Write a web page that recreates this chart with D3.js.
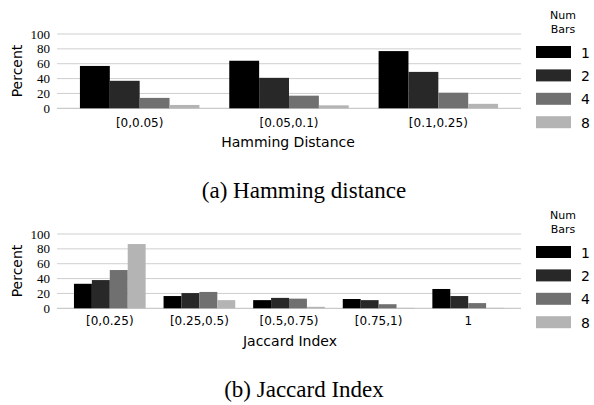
<!DOCTYPE html>
<html>
<head>
<meta charset="utf-8">
<script src="https://cdn.jsdelivr.net/npm/d3@7"></script>
<style>
  body { margin: 0; background: #fff; }
  svg { display: block; }
  .sans { font-family: "DejaVu Sans", sans-serif; }
  .serif { font-family: "Liberation Serif", serif; }
</style>
</head>
<body>
<svg id="chart" width="594" height="405"></svg>
<script>
// data
const series = ["1", "2", "4", "8"];
const seriesColors = ["#000000", "#282828", "#707070", "#b4b4b4"];
const yTicks = [0, 20, 40, 60, 80, 100];

const hammingCats = ["[0,0.05)", "[0.05,0.1)", "[0.1,0.25)"];
const hamming1 = [57, 64, 77];
const hamming2 = [37, 41, 49];
const hamming4 = [14, 17, 21];
const hamming8 = [4.5, 4, 6];

const jaccardCats = ["[0,0.25)", "[0.25,0.5)", "[0.5,0.75)", "[0.75,1)", "1"];
const jaccard1 = [33, 16.5, 11, 12.5, 26];
const jaccard2 = [38, 20.5, 14, 11, 16.5];
const jaccard4 = [51.5, 22, 13, 5.5, 7];
const jaccard8 = [86.5, 11, 2, 0.6, 0.6];

const svg = d3.select("#chart");

const config = {
    gridLeft: 57,
    gridRight: 521,
    bandLeft: 65,
    bandRight: 513,
    yTop: 34,
    yBottom: 108.3,
};

function drawPanel(g, cats, vals, o) {
    const y = d3.scaleLinear().domain([0, 100]).range([config.yBottom, config.yTop]);
    const x0 = d3.scaleBand().domain(cats).range([config.bandLeft, config.bandRight]);
    const w = x0.bandwidth();
    const x1 = d3.scaleBand().domain(series).range([w * 0.1, w * 0.9]);

    // grid lines
    g.append("g").selectAll("line")
        .data(yTicks)
        .enter().append("line")
        .attr("x1", config.gridLeft).attr("x2", config.gridRight)
        .attr("y1", d => y(d)).attr("y2", d => y(d))
        .attr("stroke", d => d === 0 ? "#bdbdbd" : "#cfcfcf")
        .attr("stroke-width", 1);

    // y tick labels
    g.append("g").selectAll("text")
        .data(yTicks)
        .enter().append("text")
        .attr("class", "serif")
        .attr("x", 50).attr("y", d => y(d) + 4.5)
        .attr("text-anchor", "end")
        .attr("font-size", 13)
        .text(d => d);

    g.append("text")
        .attr("class", "sans")
        .attr("transform", `translate(22, 71) rotate(-90)`)
        .attr("text-anchor", "middle")
        .attr("font-size", 14)
        .text("Percent");

    // bars
    const groups = g.append("g").selectAll("g")
        .data(cats.map((c, i) => ({ cat: c, vals: vals.map(s => s[i]) })))
        .enter().append("g")
        .attr("transform", d => `translate(${x0(d.cat)},0)`);

    groups.selectAll("rect")
        .data(d => d.vals.map((v, j) => ({ key: series[j], v: v, j: j })))
        .enter().append("rect")
        .attr("x", d => x1(d.key))
        .attr("width", x1.bandwidth())
        .attr("y", d => y(d.v))
        .attr("height", d => y(0) - y(d.v))
        .attr("fill", d => seriesColors[d.j]);

    // category labels
    g.append("g").selectAll("text")
        .data(cats)
        .enter().append("text")
        .attr("class", "sans")
        .attr("x", d => x0(d) + w / 2)
        .attr("y", o.catY)
        .attr("text-anchor", "middle")
        .attr("font-size", 12)
        .text(d => d);

    g.append("text")
        .attr("class", "sans")
        .attr("x", o.titleX).attr("y", o.titleY)
        .attr("text-anchor", "middle")
        .attr("font-size", 14)
        .text(o.xTitle);

    // legend
    const lg = g.append("g");
    lg.append("text").attr("class", "sans")
        .attr("x", 563).attr("y", 19).attr("text-anchor", "middle").attr("font-size", 11)
        .text("Num");
    lg.append("text").attr("class", "sans")
        .attr("x", 563).attr("y", 33).attr("text-anchor", "middle").attr("font-size", 11)
        .text("Bars");
    const items = lg.selectAll("g.item")
        .data(series)
        .enter().append("g")
        .attr("class", "item")
        .attr("transform", (d, i) => `translate(536, ${46 + i * 23.4})`);
    items.append("rect")
        .attr("width", 35).attr("height", 12)
        .attr("fill", (d, i) => seriesColors[i]);
    items.append("text").attr("class", "sans")
        .attr("x", 45).attr("y", 11.5)
        .attr("text-anchor", "start")
        .attr("font-size", 14)
        .text(d => d);

    g.append("text")
        .attr("class", "serif")
        .attr("x", o.capX).attr("y", o.capY)
        .attr("text-anchor", "middle")
        .attr("font-size", 23)
        .text(o.caption);
}

drawPanel(svg.append("g"), hammingCats, [hamming1, hamming2, hamming4, hamming8], {
    catY: 127, xTitle: "Hamming Distance", titleX: 288, titleY: 147,
    caption: "(a) Hamming distance", capX: 304, capY: 198
});

drawPanel(svg.append("g").attr("transform", "translate(0,200)"),
    jaccardCats, [jaccard1, jaccard2, jaccard4, jaccard8], {
    catY: 125, xTitle: "Jaccard Index", titleX: 290, titleY: 146,
    caption: "(b) Jaccard Index", capX: 304, capY: 197
});
</script>
</body>
</html>
